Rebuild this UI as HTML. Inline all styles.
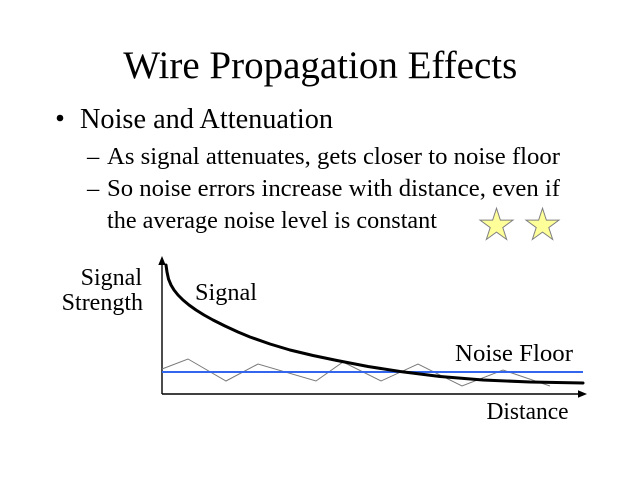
<!DOCTYPE html>
<html>
<head>
<meta charset="utf-8">
<style>
  html,body{margin:0;padding:0;background:#fff;}
  svg{display:block;}
  text{font-family:"Liberation Serif","Times New Roman",serif;fill:#000;}
</style>
</head>
<body>
<svg width="640" height="480" viewBox="0 0 640 480" xmlns="http://www.w3.org/2000/svg">
  <rect width="640" height="480" fill="#fff"/>

  <!-- Title -->
  <text x="123.3" y="78" font-size="39" textLength="394" lengthAdjust="spacingAndGlyphs">Wire Propagation Effects</text>

  <!-- Main bullet -->
  <circle cx="60" cy="118" r="3.3" fill="#000"/>
  <text x="80" y="128" font-size="28" textLength="253" lengthAdjust="spacingAndGlyphs">Noise and Attenuation</text>

  <!-- Sub bullets -->
  <text x="87" y="164" font-size="24.5">–</text>
  <text x="107" y="164" font-size="24.5" textLength="453" lengthAdjust="spacingAndGlyphs">As signal attenuates, gets closer to noise floor</text>
  <text x="87" y="196" font-size="24.5">–</text>
  <text x="107" y="196" font-size="24.5" textLength="453" lengthAdjust="spacingAndGlyphs">So noise errors increase with distance, even if</text>
  <text x="107" y="228" font-size="24.5" textLength="330" lengthAdjust="spacingAndGlyphs">the average noise level is constant</text>

  <!-- Stars -->
  <g fill="#ffff99" stroke="#7f7f7f" stroke-width="1" stroke-linejoin="miter">
    <polygon transform="translate(496.5,225.5)" points="0,-17.3 3.88,-5.34 16.45,-5.35 6.28,2.04 10.17,14 0,6.6 -10.17,14 -6.28,2.04 -16.45,-5.35 -3.88,-5.34"/>
    <polygon transform="translate(542.5,225.5)" points="0,-17.3 3.88,-5.34 16.45,-5.35 6.28,2.04 10.17,14 0,6.6 -10.17,14 -6.28,2.04 -16.45,-5.35 -3.88,-5.34"/>
  </g>

  <!-- Axis labels -->
  <text x="142" y="285" font-size="24" text-anchor="end">Signal</text>
  <text x="143" y="310" font-size="24" text-anchor="end">Strength</text>

  <!-- Axes -->
  <line x1="162" y1="394" x2="162" y2="262" stroke="#000" stroke-width="1.4"/>
  <polygon points="162,256 158.3,265 165.7,265" fill="#000"/>
  <line x1="162" y1="394" x2="580" y2="394" stroke="#000" stroke-width="1.4"/>
  <polygon points="587,394 578,390.3 578,397.7" fill="#000"/>

  <!-- Noise zigzag -->
  <polyline fill="none" stroke="#7a7a7a" stroke-width="1" points="162,369 188,359 226,381 258,364 316,381 343,362 381,381 418,364 462,386 503,370 550,386"/>

  <!-- Noise floor -->
  <line x1="162" y1="372" x2="583" y2="372" stroke="#3366ee" stroke-width="2"/>

  <!-- Signal curve -->
  <polyline fill="none" stroke="#000" stroke-width="3" stroke-linejoin="round" stroke-linecap="round"
    points="166,265 167,272 168.5,279 171,285 174,290 178,295 183,300 189,305 196,310 204,315 213,320 225,326 238,332 250,337 270,344 290,350 313,355.5 337,360.5 368,366.5 400,371.5 440,376.5 483,380 530,382 583,383"/>

  <!-- Series labels -->
  <text x="195" y="300" font-size="24" textLength="62" lengthAdjust="spacingAndGlyphs">Signal</text>
  <text x="455" y="361" font-size="24" textLength="118" lengthAdjust="spacingAndGlyphs">Noise Floor</text>
  <text x="486.5" y="419" font-size="24" textLength="82" lengthAdjust="spacingAndGlyphs">Distance</text>
</svg>
</body>
</html>
